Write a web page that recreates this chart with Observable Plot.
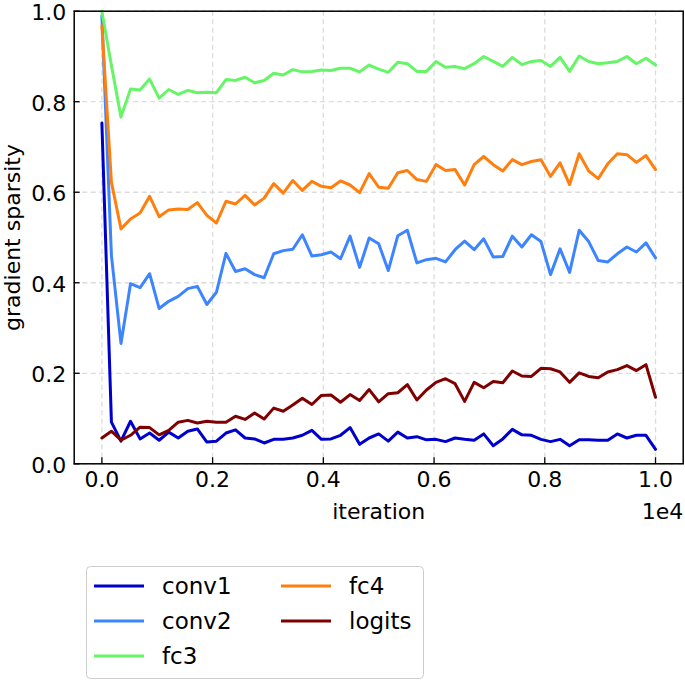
<!DOCTYPE html>
<html><head><meta charset="utf-8">
<script src="https://cdn.jsdelivr.net/npm/d3@7"></script>
<script src="https://cdn.jsdelivr.net/npm/@observablehq/plot@0.6"></script>
<style>
body{margin:0;background:#fff;font-family:"DejaVu Sans",sans-serif;}
#wrap{position:relative;width:685px;height:680px;overflow:hidden;background:#fff;}
#wrap > svg{position:absolute;left:0;top:0;}
#wrap > svg#legend{position:absolute;left:86px;top:566px;}
</style></head><body><div id="wrap"></div>
<script>
const layers = ["conv1","conv2","fc3","fc4","logits"];
const colors = ["#0000cc","#3d85ff","#66f566","#ff7f0e","#7f0000"];

const conv1 = [0.753,0.092,0.050,0.094,0.055,0.068,0.052,0.070,0.057,0.072,
  0.077,0.048,0.050,0.068,0.075,0.057,0.055,0.046,0.054,0.054,
  0.057,0.063,0.074,0.054,0.055,0.063,0.080,0.043,0.057,0.066,
  0.050,0.070,0.057,0.060,0.053,0.054,0.049,0.057,0.054,0.052,
  0.066,0.040,0.055,0.076,0.064,0.063,0.054,0.049,0.054,0.040,
  0.053,0.053,0.052,0.052,0.066,0.057,0.063,0.063,0.032];
const conv2 = [0.990,0.460,0.266,0.398,0.389,0.420,0.343,0.359,0.370,0.387,
  0.392,0.352,0.379,0.465,0.425,0.431,0.418,0.411,0.464,0.471,
  0.474,0.506,0.459,0.462,0.468,0.453,0.503,0.434,0.499,0.486,
  0.427,0.504,0.516,0.444,0.451,0.454,0.446,0.473,0.492,0.473,
  0.497,0.457,0.458,0.503,0.479,0.506,0.491,0.418,0.475,0.423,
  0.516,0.491,0.449,0.446,0.464,0.479,0.468,0.488,0.455];
const fc3 = [1.000,0.880,0.766,0.828,0.826,0.850,0.808,0.827,0.816,0.825,
  0.820,0.821,0.820,0.849,0.847,0.854,0.842,0.847,0.863,0.859,
  0.871,0.866,0.867,0.870,0.869,0.874,0.874,0.866,0.881,0.872,
  0.865,0.887,0.884,0.867,0.867,0.889,0.876,0.878,0.873,0.884,
  0.900,0.889,0.878,0.898,0.882,0.889,0.891,0.878,0.898,0.867,
  0.901,0.889,0.884,0.886,0.889,0.900,0.884,0.896,0.881];
const fc4 = [0.968,0.622,0.519,0.541,0.554,0.591,0.546,0.561,0.563,0.562,
  0.577,0.549,0.532,0.580,0.574,0.593,0.572,0.587,0.619,0.598,
  0.626,0.604,0.624,0.613,0.610,0.625,0.616,0.599,0.641,0.611,
  0.609,0.643,0.648,0.628,0.624,0.661,0.648,0.650,0.616,0.661,
  0.679,0.661,0.647,0.672,0.661,0.668,0.672,0.635,0.665,0.617,
  0.685,0.647,0.630,0.663,0.685,0.683,0.666,0.681,0.650];
const logits = [0.057,0.072,0.052,0.063,0.081,0.080,0.064,0.074,0.092,0.096,
  0.090,0.094,0.092,0.092,0.105,0.098,0.112,0.099,0.123,0.116,
  0.130,0.145,0.131,0.151,0.152,0.136,0.153,0.140,0.164,0.137,
  0.155,0.157,0.175,0.141,0.163,0.180,0.188,0.177,0.138,0.180,
  0.168,0.182,0.179,0.205,0.194,0.193,0.211,0.210,0.203,0.180,
  0.201,0.193,0.190,0.203,0.208,0.217,0.206,0.219,0.147];

const xTicks = [0,2000,4000,6000,8000,10000];
const xTickLabels = ["0.0","0.2","0.4","0.6","0.8","1.0"];
const yTicks = [0,0.2,0.4,0.6,0.8,1.0];
const yTickLabels = ["0.0","0.2","0.4","0.6","0.8","1.0"];
const xLabel = "iteration";
const yLabel = "gradient sparsity";
const xOffsetLabel = "1e4";

const series = {conv1, conv2, fc3, fc4, logits};
const nPoints = conv1.length;
const iteration = d3.range(nPoints).map(i => i * 10000 / (nPoints - 1));
const rows = layers.flatMap(name => series[name].map((v, i) => ({layer: name, iteration: iteration[i], sparsity: v})));

const H = 540;
const gridStyle = {stroke: "#dcdcdc", strokeOpacity: 1, strokeWidth: 1.3, strokeDasharray: "5,3.5"};
const plot = Plot.plot({
  width: 685, height: H,
  marginTop: 10.7, marginBottom: H - 463.3, marginLeft: 73.7, marginRight: 2.3,
  style: {fontFamily: "DejaVu Sans", fontSize: "22px", color: "#000", background: "#fff", overflow: "visible"},
  x: {domain: [-500, 10500]},
  y: {domain: [0, 1]},
  color: {domain: layers, range: colors},
  marks: [
    Plot.gridX(xTicks, gridStyle),
    Plot.gridY(yTicks, gridStyle),
    Plot.line(rows, {x: "iteration", y: "sparsity", z: "layer", stroke: "layer", strokeWidth: 3}),
    Plot.frame({stroke: "#000", strokeWidth: 1.5}),
    Plot.axisX(xTicks, {tickSize: -6, tickPadding: 14, stroke: "#000", strokeWidth: 1.3,
      tickFormat: d => xTickLabels[xTicks.indexOf(d)], fontSize: 22,
      label: xLabel, labelAnchor: "center", labelArrow: "none", labelOffset: 55}),
    Plot.axisY(yTicks, {tickSize: -6, stroke: "#000", strokeWidth: 1.3,
      tickFormat: () => "", label: null}),
    Plot.axisY(yTicks, {tickSize: 0, tickPadding: 8, dy: 2,
      tickFormat: d => yTickLabels[yTicks.indexOf(d)], fontSize: 22,
      label: yLabel, labelAnchor: "center", labelArrow: "none", labelOffset: 70}),
    Plot.text([xOffsetLabel], {frameAnchor: "bottom-right", textAnchor: "end", lineAnchor: "bottom", dy: 55, fontSize: 22, fill: "#000"})
  ]
});
const wrap = document.getElementById("wrap");
wrap.appendChild(plot);

// legend
const lg = d3.select(wrap).append("svg").attr("id", "legend").attr("width", 340).attr("height", 114);
lg.append("rect").attr("x", 0.5).attr("y", 0.5).attr("width", 337).attr("height", 112).attr("rx", 4)
  .attr("fill", "#fff").attr("stroke", "#cccccc").attr("stroke-width", 1);
const colX = [8, 195];
const rowY = [20, 55, 90];
layers.forEach((name, k) => {
  const c = k < 3 ? 0 : 1, r = k < 3 ? k : k - 3;
  lg.append("line").attr("x1", colX[c]).attr("x2", colX[c] + 50).attr("y1", rowY[r]).attr("y2", rowY[r])
    .attr("stroke", colors[k]).attr("stroke-width", 3);
  lg.append("text").attr("x", colX[c] + 68).attr("y", rowY[r]).attr("dy", "0.35em")
    .attr("font-family", "DejaVu Sans").attr("font-size", 23).attr("fill", "#000").text(name);
});
</script></body></html>
